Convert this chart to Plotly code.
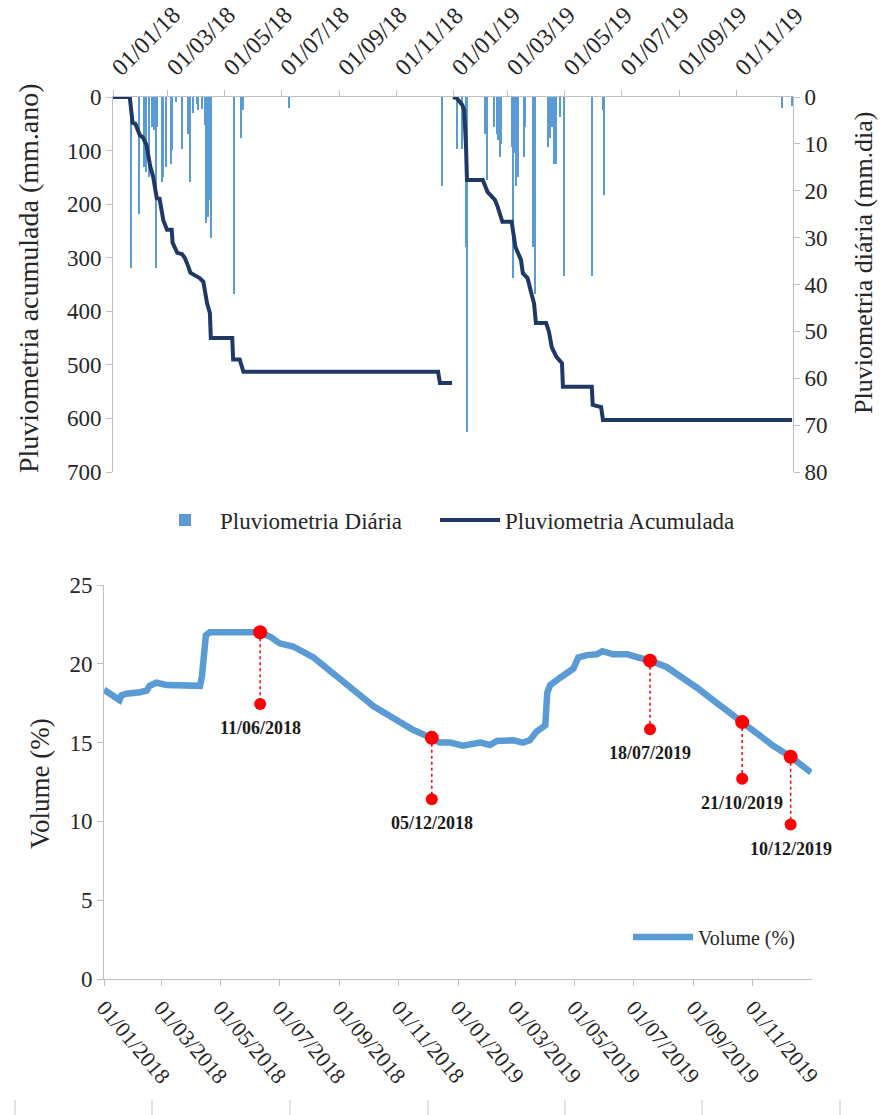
import plotly.graph_objects as go

W, H = 883, 1115

# ---------------- data ----------------
# Daily rainfall (mm/day)
rain_dates = [
    "2018-01-21", "2018-01-29", "2018-02-04", "2018-02-06", "2018-02-09", "2018-02-12",
    "2018-02-14", "2018-02-16", "2018-02-18", "2018-02-23", "2018-02-24", "2018-02-27",
    "2018-03-05", "2018-03-06", "2018-03-10", "2018-03-16", "2018-03-23", "2018-03-25",
    "2018-03-28", "2018-04-01", "2018-04-03", "2018-04-07", "2018-04-10", "2018-04-11",
    "2018-04-12", "2018-04-13", "2018-04-14", "2018-04-15", "2018-04-16", "2018-04-17",
    "2018-05-11", "2018-05-19", "2018-05-21", "2018-07-09", "2018-12-20",
    "2019-01-06", "2019-01-11", "2019-01-15", "2019-01-16", "2019-02-05", "2019-02-07",
    "2019-02-14", "2019-02-17", "2019-02-19", "2019-02-21", "2019-02-22", "2019-03-06",
    "2019-03-07", "2019-03-08", "2019-03-10", "2019-03-12", "2019-03-19", "2019-03-20",
    "2019-03-28", "2019-03-30", "2019-04-13", "2019-04-15", "2019-04-18", "2019-04-20",
    "2019-04-22", "2019-04-26", "2019-04-30", "2019-05-31", "2019-06-11", "2019-06-12",
    "2019-12-20", "2019-12-31",
]
rain_mm = [
    36.5, 24.9, 15.0, 16.0, 17.0, 6.4,
    7.0, 36.5, 6.4, 18.2, 17.0, 15.0,
    14.2, 11.4, 1.0, 11.0, 7.8, 18.2,
    3.5, 1.5, 2.8, 2.5, 6.0, 26.8,
    9.2, 25.7, 12.0, 22.0, 13.5, 30.0,
    42.0, 8.8, 2.8, 2.4, 18.9,
    11.0, 11.0, 32.0, 71.4, 7.8, 17.8,
    6.4, 7.8, 9.2, 12.8, 10.0, 10.6,
    38.6, 12.0, 18.9, 17.0, 12.8, 6.4,
    32.0, 42.0, 10.6, 8.8, 6.4, 14.2,
    14.2, 4.2, 38.2, 38.2, 2.8, 21.0,
    2.4, 2.0,
]

# Accumulated rainfall (mm/year), one series per hydrological year
acc_dates_2018 = [
    "2018-01-01", "2018-01-19", "2018-01-22", "2018-01-25", "2018-01-30", "2018-02-02",
    "2018-02-06", "2018-02-08", "2018-02-10", "2018-02-13", "2018-02-17", "2018-02-20",
    "2018-02-24", "2018-02-28", "2018-03-05", "2018-03-06", "2018-03-11", "2018-03-16",
    "2018-03-19", "2018-03-23", "2018-03-25", "2018-04-04", "2018-04-08", "2018-04-12",
    "2018-04-15", "2018-04-16", "2018-05-09", "2018-05-10", "2018-05-17", "2018-05-21",
    "2018-12-16", "2018-12-18", "2018-12-31",
]
acc_mm_2018 = [
    0, 0, 48, 50, 72, 75,
    90, 112, 130, 148, 189, 190,
    230, 248, 248, 272, 291, 293,
    300, 317, 328, 338, 345, 385,
    403, 450, 450, 490, 490, 513,
    513, 534, 534,
]
acc_dates_2019 = [
    "2019-01-01", "2019-01-05", "2019-01-11", "2019-01-13", "2019-01-15", "2019-01-16",
    "2019-02-02", "2019-02-07", "2019-02-15", "2019-02-18", "2019-02-23", "2019-03-05",
    "2019-03-09", "2019-03-12", "2019-03-15", "2019-03-17", "2019-03-22", "2019-03-26",
    "2019-03-29", "2019-03-31", "2019-04-11", "2019-04-14", "2019-04-17", "2019-04-22",
    "2019-04-28", "2019-04-29", "2019-05-30", "2019-05-31", "2019-06-09", "2019-06-11",
    "2019-12-31",
]
acc_mm_2019 = [
    0, 2, 15, 24, 93, 155,
    155, 177, 192, 205, 233, 233,
    280, 291, 304, 329, 338, 366,
    385, 422, 422, 438, 467, 485,
    497, 541, 541, 575, 579, 603,
    603,
]

# Reservoir volume (%)
vol_dates = [
    "2018-01-01", "2018-01-07", "2018-01-12", "2018-01-17", "2018-01-19", "2018-01-24",
    "2018-02-07", "2018-02-14", "2018-02-17", "2018-02-24", "2018-03-07", "2018-03-27",
    "2018-04-10", "2018-04-12", "2018-04-14", "2018-04-16", "2018-04-20", "2018-05-08",
    "2018-05-21", "2018-06-11", "2018-06-22", "2018-07-01", "2018-07-15", "2018-08-05",
    "2018-08-19", "2018-09-05", "2018-09-22", "2018-10-06", "2018-10-26", "2018-11-16",
    "2018-11-27", "2018-12-05", "2018-12-13", "2018-12-24", "2019-01-06", "2019-01-24",
    "2019-02-03", "2019-02-10", "2019-02-27", "2019-03-09", "2019-03-16", "2019-03-23",
    "2019-04-01", "2019-04-03", "2019-04-06", "2019-04-16", "2019-04-30", "2019-05-05",
    "2019-05-14", "2019-05-24", "2019-05-30", "2019-06-10", "2019-06-25", "2019-07-06",
    "2019-07-18", "2019-08-04", "2019-08-21", "2019-09-04", "2019-09-21", "2019-10-08",
    "2019-10-21", "2019-11-05", "2019-11-22", "2019-12-10", "2019-12-20", "2019-12-31",
]
vol_pct = [
    18.35, 18.15, 17.9, 17.7, 18.0, 18.1,
    18.2, 18.3, 18.6, 18.8, 18.65, 18.65,
    18.6, 19.2, 20.7, 21.8, 22.0, 22.0,
    22.1, 22.0, 21.7, 21.3, 21.1, 20.4,
    19.7, 18.8, 18.0, 17.3, 16.55, 15.8,
    15.5, 15.3, 15.0, 15.0, 14.8, 15.0,
    14.85, 15.1, 15.15, 15.0, 15.15, 15.7,
    16.1, 18.15, 18.65, 19.1, 19.7, 20.4,
    20.55, 20.6, 20.8, 20.6, 20.6, 20.4,
    20.2, 19.8, 19.1, 18.5, 17.7, 16.9,
    16.3, 15.6, 14.8, 14.1, 13.6, 13.1,
]

# Highlighted survey dates
event_dates = ["2018-06-11", "2018-12-05", "2019-07-18", "2019-10-21", "2019-12-10"]
event_labels = ["11/06/2018", "05/12/2018", "18/07/2019", "21/10/2019", "10/12/2019"]
event_vol = [22.0, 15.3, 20.2, 16.3, 14.1]
event_low = [17.45, 11.4, 15.85, 12.7, 9.8]

tick_dates = [
    "2018-01-01", "2018-03-01", "2018-05-01", "2018-07-01", "2018-09-01", "2018-11-01",
    "2019-01-01", "2019-03-01", "2019-05-01", "2019-07-01", "2019-09-01", "2019-11-01",
]
top_tick_text = [
    "01/01/18", "01/03/18", "01/05/18", "01/07/18", "01/09/18", "01/11/18",
    "01/01/19", "01/03/19", "01/05/19", "01/07/19", "01/09/19", "01/11/19",
]
bottom_tick_text = [
    "01/01/2018", "01/03/2018", "01/05/2018", "01/07/2018", "01/09/2018", "01/11/2018",
    "01/01/2019", "01/03/2019", "01/05/2019", "01/07/2019", "01/09/2019", "01/11/2019",
]

# ---------------- styling helpers ----------------
SERIF = "Liberation Serif, Times New Roman, serif"
TXT = "#262626"
AXC = "#BFBFBF"
BLUE = "#5B9BD5"
NAVY = "#1F3864"
RED = "#FF0000"


def px_x(p):
    return p / W


def px_y(p):
    return 1 - p / H


fig = go.Figure()

# Daily rainfall bars hanging from the top (right axis)
fig.add_trace(go.Bar(
    x=rain_dates, y=rain_mm, xaxis="x", yaxis="y",
    marker=dict(color=BLUE, line=dict(width=0)),
    width=86400000 * 1.6,
    name="Pluviometria Diária", legend="legend",
))

# Accumulated rainfall (left axis), gap between the two years
acc_x = acc_dates_2018 + [None] + acc_dates_2019
acc_y = acc_mm_2018 + [None] + acc_mm_2019
fig.add_trace(go.Scatter(
    x=acc_x, y=acc_y, xaxis="x", yaxis="y2", mode="lines",
    line=dict(color=NAVY, width=4), connectgaps=False,
    name="Pluviometria Acumulada", legend="legend3",
))

# Reservoir volume
fig.add_trace(go.Scatter(
    x=vol_dates, y=vol_pct, xaxis="x2", yaxis="y3", mode="lines",
    line=dict(color=BLUE, width=6.5),
    name="Volume (%)", legend="legend2",
))

# Dashed drop lines from the curve to the label markers
drop_x, drop_y = [], []
for d, v, lo in zip(event_dates, event_vol, event_low):
    drop_x += [d, d, None]
    drop_y += [v, lo, None]
fig.add_trace(go.Scatter(
    x=drop_x, y=drop_y, xaxis="x2", yaxis="y3", mode="lines",
    line=dict(color=RED, width=1.5, dash="dot"), showlegend=False, hoverinfo="skip",
))
fig.add_trace(go.Scatter(
    x=event_dates, y=event_vol, xaxis="x2", yaxis="y3", mode="markers",
    marker=dict(color=RED, size=14), showlegend=False,
))
fig.add_trace(go.Scatter(
    x=event_dates, y=event_low, xaxis="x2", yaxis="y3", mode="markers",
    marker=dict(color=RED, size=12), showlegend=False,
))

annotations = []
for d, lo, t in zip(event_dates, event_low, event_labels):
    annotations.append(dict(
        x=d, y=lo, xref="x2", yref="y3", text=f"<b>{t}</b>", showarrow=False,
        yanchor="top", yshift=-12, font=dict(family=SERIF, size=18, color="#1a1a1a"),
    ))

# Axis titles
annotations += [
    dict(x=px_x(28), y=px_y(278), xref="paper", yref="paper", showarrow=False,
         xanchor="center", yanchor="middle",
         text="Pluviometria acumulada (mm.ano)", textangle=-90,
         font=dict(family=SERIF, size=28, color=TXT)),
    dict(x=px_x(863), y=px_y(263), xref="paper", yref="paper", showarrow=False,
         xanchor="center", yanchor="middle",
         text="Pluviometria diária (mm.dia)", textangle=-90,
         font=dict(family=SERIF, size=26, color=TXT)),
    dict(x=px_x(40), y=px_y(784), xref="paper", yref="paper", showarrow=False,
         xanchor="center", yanchor="middle",
         text="Volume (%)", textangle=-90,
         font=dict(family=SERIF, size=27, color=TXT)),
]

# faint separators along the lower edge
shapes = []
for xp in [15, 152, 290, 428, 565, 702, 840]:
    shapes.append(dict(type="line", xref="paper", yref="paper",
                       x0=px_x(xp), x1=px_x(xp), y0=px_y(1100), y1=px_y(1115),
                       line=dict(color="#C8C8C8", width=1)))

axis_common = dict(showgrid=False, zeroline=False, showline=True, linecolor=AXC,
                   linewidth=1, ticks="outside", tickcolor=AXC, ticklen=6,
                   automargin=False)

legend_common = dict(xanchor="left", yanchor="middle", itemwidth=60,
                     bgcolor="rgba(0,0,0,0)")

fig.update_layout(
    width=W, height=H,
    margin=dict(l=0, r=0, t=0, b=0, autoexpand=False),
    paper_bgcolor="white", plot_bgcolor="white",
    bargap=0, barmode="overlay",
    xaxis=dict(
        axis_common, type="date", domain=[px_x(113), px_x(793)], anchor="y", side="top",
        range=["2018-01-01", "2020-01-01"], tickvals=tick_dates, ticktext=top_tick_text,
        tickangle=-45, tickfont=dict(family=SERIF, size=24, color=TXT),
    ),
    yaxis=dict(
        axis_common, domain=[px_y(472), px_y(97)], anchor="x", side="right",
        range=[80, 0], dtick=10, tickfont=dict(family=SERIF, size=23, color=TXT),
    ),
    yaxis2=dict(
        axis_common, overlaying="y", anchor="x", side="left",
        range=[700, 0], dtick=100, tickfont=dict(family=SERIF, size=23, color=TXT),
    ),
    xaxis2=dict(
        axis_common, type="date", domain=[px_x(104), px_x(812)], anchor="y3",
        range=["2018-01-01", "2020-01-01"], tickvals=tick_dates, ticktext=bottom_tick_text,
        tickangle=50, tickfont=dict(family=SERIF, size=22, color=TXT),
    ),
    yaxis3=dict(
        axis_common, domain=[px_y(979), px_y(585)], anchor="x2",
        range=[0, 25], dtick=5, tickfont=dict(family=SERIF, size=23, color=TXT),
    ),
    legend=dict(legend_common, x=px_x(150), y=px_y(520),
                font=dict(family=SERIF, size=23, color=TXT)),
    legend3=dict(legend_common, x=px_x(435), y=px_y(520),
                 font=dict(family=SERIF, size=23, color=TXT)),
    legend2=dict(legend_common, x=px_x(628), y=px_y(937),
                 font=dict(family=SERIF, size=20, color=TXT)),
    annotations=annotations,
    shapes=shapes,
    showlegend=True,
)

fig.write_html("out.html")
